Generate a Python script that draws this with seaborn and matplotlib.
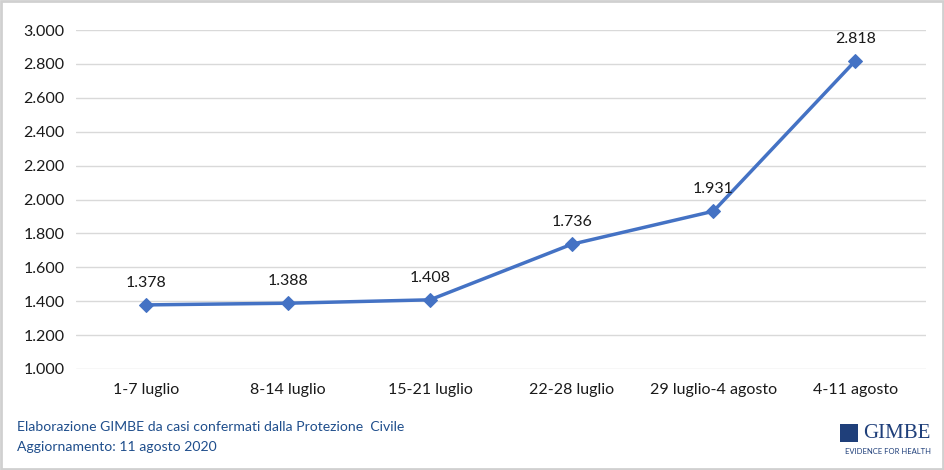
import matplotlib
matplotlib.use("Agg")
import matplotlib.pyplot as plt
import matplotlib.ticker as mticker
from matplotlib.patches import Rectangle
import seaborn as sns
import pandas as pd

settimane = ["1-7 luglio", "8-14 luglio", "15-21 luglio", "22-28 luglio",
             "29 luglio-4 agosto", "4-11 agosto"]
casi = [1378, 1388, 1408, 1736, 1931, 2818]
y_ticks = [1000, 1200, 1400, 1600, 1800, 2000, 2200, 2400, 2600, 2800, 3000]

df = pd.DataFrame({"settimana": settimane, "casi": casi})

sns.set_style("white")
plt.rcParams["font.family"] = ["Lato", "DejaVu Sans"]

fig = plt.figure(figsize=(9.45, 4.7), dpi=100)
ax = fig.add_axes([0.080, 0.215, 0.900, 0.721])

blu = "#4472C4"
sns.lineplot(data=df, x="settimana", y="casi", ax=ax, color=blu, linewidth=2.5,
             marker="D", markersize=7, markeredgecolor=blu, sort=False)

for i, v in enumerate(casi):
    ax.annotate(f"{v:,}".replace(",", "."), (i, v), xytext=(0, 11),
                textcoords="offset points", ha="center", va="bottom",
                fontsize=11.5, color="#1a1a1a")

ax.set_xlim(-0.5, len(settimane) - 0.5)
ax.set_ylim(1000, 3000)
ax.set_yticks(y_ticks)
ax.yaxis.set_major_formatter(mticker.FuncFormatter(lambda v, p: f"{int(v):,}".replace(",", ".")))
ax.grid(axis="y", color="#D9D9D9", linewidth=1)
ax.set_axisbelow(True)
for s in ax.spines.values():
    s.set_visible(False)
ax.tick_params(axis="both", length=0, labelsize=11.5, colors="#1a1a1a", pad=10)
ax.tick_params(axis="y", pad=8)
ax.set_xlabel("")
ax.set_ylabel("")

# footer
fig.text(0.018, 0.091, "Elaborazione GIMBE da casi confermati dalla Protezione  Civile",
         fontsize=10.1, color="#1F4E8C", ha="left", va="center")
fig.text(0.018, 0.049, "Aggiornamento: 11 agosto 2020",
         fontsize=10.1, color="#1F4E8C", ha="left", va="center")

# logo
fig.text(0.985, 0.078, "GIMBE", fontsize=15, color="#1F3F7A", ha="right",
         va="center", family=["Liberation Serif", "DejaVu Serif"])
fig.text(0.985, 0.040, "EVIDENCE FOR HEALTH", fontsize=5.5, color="#1F3F7A",
         ha="right", va="center")
fig.patches.append(Rectangle((0.889, 0.060), 0.019, 0.038, transform=fig.transFigure,
                             facecolor="#1F3F7A", edgecolor="none"))

# cornice
fig.patches.append(Rectangle((0.001, 0.002), 0.997, 0.995, transform=fig.transFigure,
                             fill=False, edgecolor="#D0D0D0", linewidth=2))

fig.savefig("out.png", dpi=100)
